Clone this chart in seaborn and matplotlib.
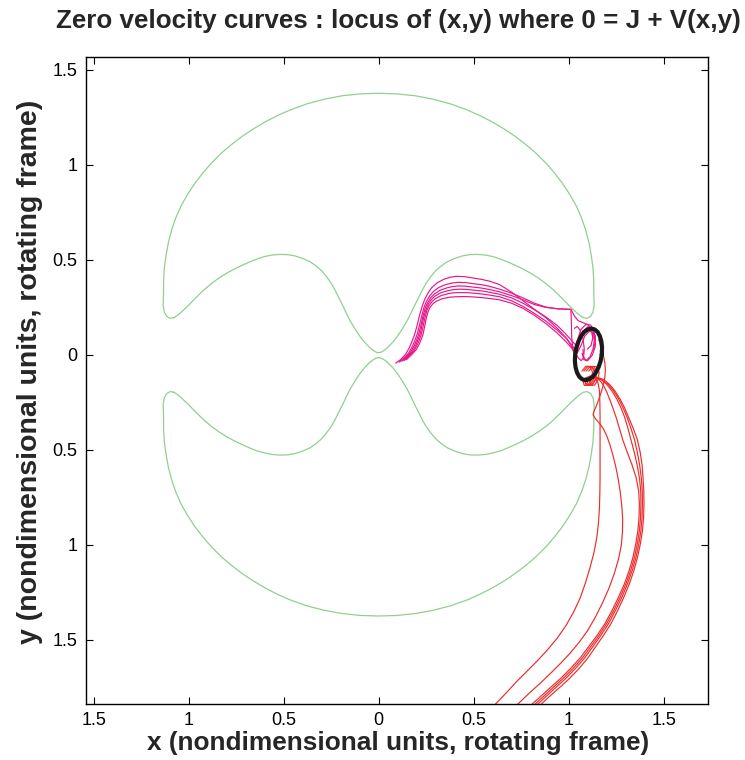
import matplotlib
matplotlib.use("Agg")
import matplotlib.pyplot as plt
import pandas as pd
import seaborn as sns

sns.set_theme(style="white")
plt.rcParams["font.family"] = ["Liberation Sans", "DejaVu Sans"]

# ---------------- data ----------------
title = "Zero velocity curves : locus of (x,y) where 0 = J + V(x,y)"
xlabel = "x (nondimensional units, rotating frame)"
ylabel = "y (nondimensional units, rotating frame)"
tick_values = [-1.5, -1.0, -0.5, 0.0, 0.5, 1.0, 1.5]
tick_labels = ["1.5", "1", "0.5", "0", "0.5", "1", "1.5"]
xlim = (-1.54, 1.733)
ylim = (-1.837, 1.568)

# zero-velocity curve: shared x samples, upper and lower branches
zv_x = [-1.078, -1.097, -1.115, -1.128,
        -1.134, -1.132, -1.132, -1.128, -1.119, -1.107, -1.090, -1.068, -1.040, -1.006,
        -0.968, -0.925, -0.879, -0.829, -0.775, -0.719, -0.659, -0.598, -0.534, -0.469,
        -0.379, -0.286, -0.192, -0.096, 0.0,
        0.096, 0.192, 0.286, 0.379, 0.469, 0.534, 0.598, 0.659, 0.719, 0.775,
        0.829, 0.879, 0.925, 0.968, 1.006, 1.040, 1.068, 1.090, 1.107, 1.119,
        1.128, 1.132, 1.132, 1.134,
        1.128, 1.115, 1.097, 1.078, 1.060, 1.040,
        1.000, 0.960, 0.920, 0.880, 0.840, 0.800, 0.760, 0.720, 0.680, 0.640,
        0.600, 0.560, 0.520, 0.480, 0.440, 0.400, 0.360, 0.330, 0.300, 0.275,
        0.250, 0.230, 0.210, 0.190, 0.170, 0.150, 0.125, 0.100, 0.075, 0.050,
        0.030, 0.012, 0.000,
        -0.012, -0.030, -0.050, -0.075, -0.100, -0.125, -0.150, -0.170, -0.190, -0.210,
        -0.230, -0.250, -0.275, -0.300, -0.330, -0.360, -0.400, -0.440, -0.480, -0.520,
        -0.560, -0.600, -0.640, -0.680, -0.720, -0.760, -0.800, -0.840, -0.880, -0.920,
        -0.960, -1.000, -1.040, -1.060, -1.078]
zv_y_upper = [0.196, 0.193, 0.203, 0.225,
              0.262, 0.325, 0.390, 0.456, 0.522, 0.589, 0.655, 0.720, 0.784, 0.844,
              0.902, 0.958, 1.011, 1.061, 1.107, 1.150, 1.190, 1.226, 1.259, 1.288,
              1.321, 1.346, 1.364, 1.374, 1.377,
              1.374, 1.364, 1.346, 1.321, 1.288, 1.259, 1.226, 1.190, 1.150, 1.107,
              1.061, 1.011, 0.958, 0.902, 0.844, 0.784, 0.720, 0.655, 0.589, 0.522,
              0.456, 0.390, 0.325, 0.262,
              0.225, 0.203, 0.193, 0.196, 0.207, 0.224,
              0.262, 0.303, 0.342, 0.376, 0.405, 0.430, 0.452, 0.471, 0.489, 0.505,
              0.518, 0.526, 0.529, 0.528, 0.521, 0.508, 0.490, 0.469, 0.443, 0.413,
              0.378, 0.342, 0.302, 0.262, 0.220, 0.180, 0.138, 0.100, 0.068, 0.042,
              0.025, 0.014, 0.012,
              0.014, 0.025, 0.042, 0.068, 0.100, 0.138, 0.180, 0.220, 0.262, 0.302,
              0.342, 0.378, 0.413, 0.443, 0.469, 0.490, 0.508, 0.521, 0.528, 0.529,
              0.526, 0.518, 0.505, 0.489, 0.471, 0.452, 0.430, 0.405, 0.376, 0.342,
              0.303, 0.262, 0.224, 0.207, 0.196]
zv_y_lower = [-0.196, -0.193, -0.203, -0.225,
              -0.262, -0.325, -0.390, -0.456, -0.522, -0.589, -0.655, -0.720, -0.784, -0.844,
              -0.902, -0.958, -1.011, -1.061, -1.107, -1.150, -1.190, -1.226, -1.259, -1.288,
              -1.320, -1.344, -1.361, -1.371, -1.374,
              -1.371, -1.361, -1.344, -1.320, -1.288, -1.259, -1.226, -1.190, -1.150, -1.107,
              -1.061, -1.011, -0.958, -0.902, -0.844, -0.784, -0.720, -0.655, -0.589, -0.522,
              -0.456, -0.390, -0.325, -0.262,
              -0.225, -0.203, -0.193, -0.196, -0.207, -0.224,
              -0.262, -0.303, -0.342, -0.376, -0.405, -0.430, -0.452, -0.471, -0.489, -0.505,
              -0.516, -0.524, -0.527, -0.526, -0.519, -0.506, -0.488, -0.467, -0.441, -0.411,
              -0.377, -0.342, -0.302, -0.262, -0.220, -0.180, -0.138, -0.100, -0.068, -0.042,
              -0.026, -0.016, -0.014,
              -0.016, -0.026, -0.042, -0.068, -0.100, -0.138, -0.180, -0.220, -0.262, -0.302,
              -0.342, -0.377, -0.411, -0.441, -0.467, -0.488, -0.506, -0.519, -0.526, -0.527,
              -0.524, -0.516, -0.505, -0.489, -0.471, -0.452, -0.430, -0.405, -0.376, -0.342,
              -0.303, -0.262, -0.224, -0.207, -0.196]

# stable-manifold trajectories (magenta), outermost first
pink_1 = [(0.090, -0.043), (0.118, -0.022), (0.142, 0.004), (0.160, 0.035), (0.175, 0.070),
          (0.189, 0.107), (0.201, 0.150), (0.216, 0.212), (0.229, 0.256), (0.242, 0.291),
          (0.260, 0.327), (0.280, 0.355), (0.310, 0.381), (0.345, 0.399), (0.377, 0.409),
          (0.409, 0.414), (0.452, 0.412), (0.496, 0.405), (0.540, 0.398), (0.584, 0.388),
          (0.637, 0.370), (0.700, 0.330), (0.760, 0.285), (0.820, 0.240), (0.883, 0.193),
          (0.940, 0.140), (0.988, 0.088), (1.015, 0.045), (1.030, 0.005), (1.045, 0.040),
          (1.050, 0.090), (1.065, 0.135), (1.090, 0.160), (1.115, 0.158), (1.130, 0.130),
          (1.135, 0.080), (1.128, 0.030), (1.112, -0.010), (1.092, -0.030), (1.078, -0.010),
          (1.075, 0.030)]
pink_2 = [(0.107, -0.038), (0.134, -0.015), (0.159, 0.011), (0.176, 0.042), (0.190, 0.075),
          (0.202, 0.107), (0.213, 0.150), (0.227, 0.207), (0.238, 0.248), (0.250, 0.279),
          (0.268, 0.310), (0.287, 0.333), (0.318, 0.356), (0.354, 0.371), (0.385, 0.378),
          (0.415, 0.382), (0.456, 0.381), (0.497, 0.375), (0.540, 0.370), (0.584, 0.361),
          (0.637, 0.346), (0.700, 0.325), (0.760, 0.300), (0.820, 0.272), (0.880, 0.252),
          (0.940, 0.243), (0.990, 0.240), (1.012, 0.240), (1.014, 0.170), (1.016, 0.090),
          (1.022, 0.030), (1.040, 0.000), (1.060, 0.080), (1.075, 0.125), (1.100, 0.148),
          (1.125, 0.140), (1.140, 0.100), (1.140, 0.045), (1.125, 0.000), (1.100, -0.030),
          (1.080, -0.025), (1.070, 0.010)]
pink_3 = [(0.117, -0.034), (0.144, -0.011), (0.169, 0.016), (0.186, 0.046), (0.199, 0.077),
          (0.210, 0.107), (0.221, 0.150), (0.233, 0.204), (0.244, 0.243), (0.255, 0.271),
          (0.273, 0.300), (0.292, 0.320), (0.322, 0.340), (0.359, 0.353), (0.389, 0.360),
          (0.419, 0.363), (0.458, 0.362), (0.498, 0.357), (0.541, 0.352), (0.584, 0.344),
          (0.637, 0.332), (0.700, 0.312), (0.760, 0.290), (0.820, 0.265), (0.880, 0.250),
          (0.940, 0.243), (1.012, 0.240), (1.030, 0.205), (1.050, 0.180), (1.075, 0.170),
          (1.100, 0.160), (1.120, 0.135), (1.128, 0.095), (1.118, 0.050), (1.098, 0.030)]
pink_4 = [(0.126, -0.031), (0.153, -0.008), (0.178, 0.019), (0.195, 0.050), (0.207, 0.080),
          (0.217, 0.107), (0.227, 0.150), (0.238, 0.201), (0.249, 0.238), (0.260, 0.265),
          (0.277, 0.291), (0.295, 0.309), (0.326, 0.327), (0.364, 0.338), (0.393, 0.344),
          (0.422, 0.346), (0.460, 0.345), (0.499, 0.341), (0.541, 0.337), (0.584, 0.330),
          (0.637, 0.319), (0.700, 0.300), (0.760, 0.272), (0.820, 0.238), (0.880, 0.200),
          (0.940, 0.155), (0.985, 0.110), (1.020, 0.070), (1.040, 0.050), (1.055, 0.090),
          (1.075, 0.125), (1.100, 0.140), (1.120, 0.125), (1.128, 0.085)]
pink_5 = [(0.135, -0.029), (0.161, -0.004), (0.187, 0.023), (0.203, 0.053), (0.215, 0.082),
          (0.224, 0.107), (0.234, 0.150), (0.244, 0.198), (0.254, 0.234), (0.264, 0.258),
          (0.281, 0.281), (0.299, 0.297), (0.330, 0.313), (0.368, 0.323), (0.397, 0.327),
          (0.426, 0.328), (0.462, 0.328), (0.499, 0.325), (0.541, 0.321), (0.584, 0.315),
          (0.637, 0.306), (0.700, 0.285), (0.760, 0.255), (0.820, 0.218), (0.880, 0.178),
          (0.940, 0.130), (0.990, 0.085), (1.025, 0.040), (1.045, 0.010), (1.065, 0.050),
          (1.085, 0.100), (1.110, 0.125), (1.132, 0.115), (1.140, 0.075), (1.130, 0.030)]
pink_6 = [(0.146, -0.025), (0.172, 0.000), (0.198, 0.028), (0.214, 0.058), (0.225, 0.085),
          (0.233, 0.107), (0.242, 0.150), (0.251, 0.195), (0.260, 0.228), (0.270, 0.250),
          (0.286, 0.270), (0.304, 0.283), (0.335, 0.296), (0.374, 0.304), (0.402, 0.306),
          (0.430, 0.307), (0.465, 0.307), (0.500, 0.305), (0.542, 0.302), (0.584, 0.297),
          (0.637, 0.290), (0.700, 0.272), (0.760, 0.245), (0.820, 0.208), (0.880, 0.165),
          (0.940, 0.115), (0.990, 0.065), (1.030, 0.020), (1.050, -0.015), (1.065, -0.030),
          (1.078, -0.015), (1.082, 0.030), (1.075, 0.090), (1.060, 0.130), (1.045, 0.150),
          (1.030, 0.140)]

# unstable-manifold trajectories (red)
red_A = [(1.100, -0.060), (1.125, -0.065), (1.142, -0.090), (1.142, -0.125), (1.125, -0.152),
         (1.102, -0.160), (1.088, -0.145), (1.092, -0.120), (1.115, -0.110), (1.140, -0.122),
         (1.155, -0.150), (1.162, -0.190), (1.164, -0.250), (1.165, -0.320), (1.165, -0.400),
         (1.165, -0.480), (1.165, -0.560), (1.165, -0.640), (1.164, -0.720), (1.162, -0.800),
         (1.157, -0.880), (1.148, -0.960), (1.133, -1.040), (1.112, -1.120), (1.088, -1.200),
         (1.060, -1.280), (1.025, -1.355), (0.985, -1.425), (0.940, -1.490), (0.890, -1.550),
         (0.835, -1.610), (0.780, -1.665), (0.725, -1.720), (0.670, -1.780), (0.615, -1.837),
         (0.580, -1.880)]
red_B = [(1.158, 0.080), (1.172, 0.040), (1.182, 0.000), (1.190, -0.040), (1.193, -0.080),
         (1.190, -0.120), (1.180, -0.165), (1.165, -0.215), (1.148, -0.262), (1.132, -0.300),
         (1.128, -0.315), (1.140, -0.335), (1.162, -0.360), (1.182, -0.388), (1.200, -0.425),
         (1.216, -0.470), (1.232, -0.525), (1.247, -0.585), (1.260, -0.650), (1.271, -0.720),
         (1.279, -0.790), (1.284, -0.860), (1.283, -0.930), (1.277, -1.000), (1.262, -1.075),
         (1.240, -1.150), (1.213, -1.225), (1.180, -1.300), (1.143, -1.375), (1.100, -1.450),
         (1.053, -1.515), (1.005, -1.572), (0.960, -1.620), (0.910, -1.670), (0.850, -1.728),
         (0.790, -1.782), (0.733, -1.837), (0.700, -1.870)]
red_outer_y = [-0.085, -0.060, -0.062, -0.090, -0.130, -0.158, -0.160, -0.138, -0.120, -0.118,
               -0.130, -0.155, -0.190, -0.232, -0.278, -0.330, -0.387, -0.448, -0.512, -0.578,
               -0.646, -0.715, -0.785, -0.855, -0.925, -0.995, -1.065, -1.135, -1.205, -1.275,
               -1.345, -1.415, -1.475, -1.535, -1.595, -1.652, -1.705, -1.752, -1.800, -1.840,
               -1.875]
red_C_x = [1.080, 1.100, 1.122, 1.135, 1.130, 1.112, 1.092, 1.085, 1.100, 1.130,
           1.160, 1.180, 1.198, 1.215, 1.232, 1.250, 1.267, 1.285, 1.308, 1.333,
           1.355, 1.368, 1.372, 1.370, 1.364, 1.353, 1.338, 1.318, 1.293, 1.262,
           1.228, 1.190, 1.150, 1.105, 1.060, 1.008, 0.955, 0.902, 0.849, 0.805,
           0.766]
red_D_x = [1.092, 1.112, 1.134, 1.147, 1.142, 1.124, 1.104, 1.097, 1.112, 1.142,
           1.172, 1.200, 1.228, 1.253, 1.275, 1.295, 1.312, 1.328, 1.345, 1.360,
           1.372, 1.379, 1.380, 1.378, 1.372, 1.361, 1.346, 1.326, 1.301, 1.271,
           1.237, 1.199, 1.160, 1.116, 1.072, 1.021, 0.968, 0.916, 0.864, 0.821,
           0.782]
red_E_x = [1.070, 1.090, 1.112, 1.125, 1.120, 1.102, 1.082, 1.075, 1.090, 1.125,
           1.172, 1.208, 1.237, 1.263, 1.286, 1.308, 1.328, 1.347, 1.361, 1.373,
           1.382, 1.387, 1.388, 1.386, 1.380, 1.369, 1.354, 1.334, 1.309, 1.280,
           1.246, 1.209, 1.170, 1.127, 1.084, 1.034, 0.982, 0.930, 0.878, 0.835,
           0.796]
red_F_x = [1.105, 1.125, 1.147, 1.160, 1.155, 1.137, 1.117, 1.110, 1.125, 1.150,
           1.185, 1.215, 1.244, 1.270, 1.294, 1.316, 1.340, 1.362, 1.376, 1.386,
           1.391, 1.395, 1.396, 1.394, 1.388, 1.377, 1.362, 1.343, 1.319, 1.290,
           1.258, 1.222, 1.184, 1.142, 1.101, 1.053, 1.002, 0.950, 0.896, 0.853,
           0.814]

# periodic (Lyapunov) orbit
orbit = [(1.174, 0.003), (1.1755, 0.038), (1.172, 0.071), (1.164, 0.099), (1.152, 0.121),
         (1.137, 0.134), (1.119, 0.139), (1.100, 0.134), (1.082, 0.121), (1.065, 0.099),
         (1.051, 0.071), (1.040, 0.038), (1.034, 0.003), (1.0325, -0.032), (1.036, -0.065),
         (1.044, -0.093), (1.056, -0.115), (1.071, -0.128), (1.089, -0.133), (1.108, -0.128),
         (1.126, -0.115), (1.143, -0.093), (1.157, -0.065), (1.168, -0.032), (1.174, 0.003)]

# ---------------- assemble long table ----------------
curves = {
    "zv": [list(zip(zv_x, zv_y_upper)), list(zip(zv_x, zv_y_lower))],
    "pink": [pink_1, pink_2, pink_3, pink_4, pink_5, pink_6],
    "red": [red_A, red_B] + [list(zip(xs, red_outer_y))
                             for xs in (red_C_x, red_D_x, red_E_x, red_F_x)],
    "orbit": [orbit],
}
rows = []
for kind, group in curves.items():
    for ci, pts in enumerate(group):
        for order, (px, py) in enumerate(pts):
            rows.append({"kind": kind, "curve": f"{kind}{ci}", "order": order,
                         "x": px, "y": py})
df = pd.DataFrame(rows)

styles = {
    "zv": dict(color="#8fd08f", lw=0.9),
    "pink": dict(color="#e5178a", lw=0.85),
    "red": dict(color="#ee2b2b", lw=0.85),
    "orbit": dict(color="#1a1a1a", lw=3.0, solid_joinstyle="round", solid_capstyle="round"),
}

fig = plt.figure(figsize=(7.45, 7.6), dpi=100)
ax = fig.add_axes([86 / 745, 1 - 704 / 760, (708 - 86) / 745, (704 - 57) / 760])

for kind in ["zv", "pink", "red", "orbit"]:
    sub = df[df["kind"] == kind]
    sns.lineplot(data=sub, x="x", y="y", units="curve", estimator=None, sort=False,
                 ax=ax, legend=False, **styles[kind])

ax.set_xlim(*xlim)
ax.set_ylim(*ylim)
ax.set_xticks(tick_values)
ax.set_xticklabels(tick_labels)
ax.set_yticks(tick_values)
ax.set_yticklabels(tick_labels)
ax.set_xlabel("")
ax.set_ylabel("")
ax.tick_params(direction="in", length=5, width=0.8, top=True, right=True,
               bottom=True, left=True, labelsize=13, colors="black", pad=6)
for s in ax.spines.values():
    s.set_color("black")
    s.set_linewidth(1.0)
ax.grid(False)

fig.text(398 / 745, 1 - 21 / 760, title, ha="center", va="center",
         fontsize=18.7, fontweight="bold")
fig.text(398 / 745, 1 - 743 / 760, xlabel, ha="center", va="center",
         fontsize=18.9, fontweight="bold")
fig.text(30 / 745, 1 - 372 / 760, ylabel, ha="center", va="center",
         fontsize=20.5, fontweight="bold", rotation=90)

fig.savefig("out.png", dpi=100, facecolor="white")
